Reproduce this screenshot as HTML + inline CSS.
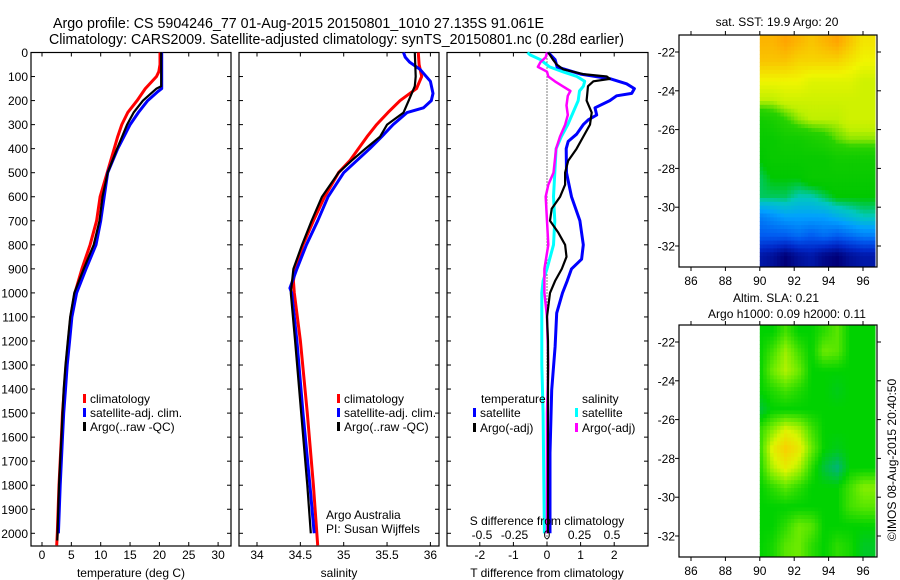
<!DOCTYPE html>
<html><head><meta charset="utf-8"><style>
html,body{margin:0;padding:0;background:#fff}
svg{display:block;font-family:"Liberation Sans",sans-serif}
</style></head><body>
<svg id="c" width="900" height="580" viewBox="0 0 900 580" xmlns="http://www.w3.org/2000/svg">
<text x="53" y="28" font-size="14.5" textLength="491" lengthAdjust="spacingAndGlyphs">Argo profile: CS 5904246_77 01-Aug-2015 20150801_1010 27.135S 91.061E</text>
<text x="49" y="44" font-size="14.5" textLength="575" lengthAdjust="spacingAndGlyphs">Climatology: CARS2009. Satellite-adjusted climatology: synTS_20150801.nc (0.28d earlier)</text>
<g id="g"></g>
</svg>
<script>
// ---------- data ----------
const tClimDepth=[0,50,80,100,150,200,250,300,350,400,500,600,700,800,900,1000,1100,1200,1300,1400,1500,1600,1800,2000,2050];
const tClim=[20.1,20.1,19.9,19.5,17.6,16.2,14.6,13.6,12.9,12.3,11.1,9.9,9.3,8.2,6.8,5.6,4.9,4.5,4.1,3.8,3.5,3.3,2.9,2.6,2.5];
const tSatDepth=[0,100,150,165,200,250,300,400,500,600,700,800,900,1000,1100,1200,1300,1400,1500,1600,1800,2000];
const tSat=[20.4,20.4,20.4,19.6,18.0,16.4,15.0,12.9,11.2,10.6,10.0,9.2,7.5,5.9,5.1,4.7,4.3,4.0,3.7,3.5,3.1,2.8];
const tArgoDepth=[0,100,140,150,200,250,300,400,500,600,700,800,900,1000,1100,1200,1300,1400,1500,1600,1800,2030];
const tArgo=[20.3,20.3,20.3,19.5,17.2,15.6,14.5,12.8,11.2,10.3,9.8,8.8,7.1,5.5,4.8,4.4,4.0,3.7,3.5,3.3,2.9,2.6];

const sClimDepth=[0,50,100,150,200,250,300,350,400,450,500,600,700,800,900,950,1000,1200,1500,1800,2050];
const sClim=[35.86,35.87,35.90,35.84,35.65,35.51,35.38,35.27,35.17,35.07,34.94,34.78,34.65,34.53,34.44,34.42,34.43,34.50,34.58,34.65,34.70];
const sSatDepth=[0,20,40,70,120,170,200,230,250,300,350,400,450,500,600,700,800,900,980,1000,1200,1500,1800,2000];
const sSat=[35.69,35.71,35.76,35.88,36.0,36.03,36.01,35.92,35.73,35.57,35.44,35.30,35.15,35.0,34.82,34.70,34.57,34.46,34.38,34.40,34.46,34.53,34.61,34.66];
const sArgoDepth=[0,100,140,200,250,300,350,400,450,500,600,700,800,900,1000,1200,1500,1800,2000];
const sArgo=[35.82,35.83,35.82,35.75,35.69,35.50,35.42,35.25,35.09,34.94,34.75,34.63,34.52,34.42,34.39,34.44,34.51,34.58,34.62];

const dTSatDepth=[0,30,60,90,110,130,150,170,180,200,230,260,280,300,340,370,400,500,600,700,800,860,900,950,1000,1084,1224,1404,1666,2000];
const dTSat=[0.04,0.24,0.3,1.0,1.9,2.37,2.6,2.52,2.07,1.87,1.43,1.48,1.23,1.08,0.88,0.63,0.57,0.58,0.73,0.98,1.08,1.03,0.73,0.6,0.46,0.29,0.24,0.14,0.09,0.09];
const dTArgoDepth=[0,30,50,70,90,100,110,120,140,200,250,300,350,400,450,500,550,600,650,700,750,800,850,900,950,1000,1100,1200,1500,2000];
const dTArgo=[0.04,0.18,0.29,0.48,1.07,1.78,1.87,1.38,1.22,1.18,1.33,1.28,1.08,0.88,0.63,0.54,0.54,0.39,0.14,0.09,0.34,0.54,0.58,0.44,0.24,0.09,0.0,0.03,0.03,0.03];
const dSSatDepth=[0,10,30,60,80,100,120,140,160,200,250,300,350,400,500,600,700,800,900,950,1000,1300,1500,2000];
const dSSat=[-0.15,-0.13,-0.05,0.02,0.12,0.23,0.29,0.28,0.25,0.24,0.20,0.16,0.11,0.07,0.06,0.05,0.06,0.05,0.0,-0.03,-0.04,-0.04,-0.03,-0.02];
const dSArgoDepth=[0,20,40,60,80,100,120,140,160,180,220,260,300,350,400,500,550,600,700,800,900,1000,1100,1300,1500,2000];
const dSArgo=[0,-0.01,-0.05,-0.07,0,0.01,0.06,0.12,0.18,0.16,0.15,0.16,0.14,0.10,0.07,0.05,0.01,-0.01,0,0.01,-0.02,-0.02,0,0.01,0,0];

const depthTicks=[0,100,200,300,400,500,600,700,800,900,1000,1100,1200,1300,1400,1500,1600,1700,1800,1900,2000];
const tTicks=[0,5,10,15,20,25,30];
const sTicks=[34,34.5,35,35.5,36];
const sTickLabels=["34","34.5","35","35.5","36"];
const dTTicks=[-2,-1,0,1,2];
const dSTicks=[-0.5,-0.25,0,0.25,0.5];
const dSTickLabels=["-0.5","-0.25","0","0.25","0.5"];
const latTicks=[-22,-24,-26,-28,-30,-32];
const lonTicks=[86,88,90,92,94,96];
const gridLons=[90,90.75,91.5,92.25,93,93.75,94.5,95.25,96];
const gridLats=[-21.5,-22.5,-23.5,-24.5,-25.5,-26.5,-27.5,-28.5,-29.5,-30.5,-31.5,-32.5];
const sst=[
[20.6,20.6,20.7,20.6,20.5,20.6,20.7,20.5,20.3],
[20.5,20.5,20.5,20.4,20.4,20.4,20.4,20.3,20.2],
[20.2,20.2,20.2,20.2,20.1,20.1,20.1,20.1,20.0],
[19.9,19.9,20.0,20.0,20.0,20.0,20.0,20.0,20.0],
[19.3,19.4,19.6,19.8,19.9,19.9,19.9,20.0,20.0],
[19.2,19.2,19.3,19.3,19.4,19.5,19.7,19.8,19.8],
[19.1,19.2,19.2,19.2,19.2,19.2,19.3,19.3,19.3],
[19.0,19.1,19.1,19.1,19.2,19.2,19.2,19.2,19.2],
[19.0,19.0,19.0,18.9,18.9,19.0,19.1,19.1,19.1],
[18.4,18.5,18.6,18.6,18.6,18.6,18.7,18.8,18.9],
[18.2,18.2,18.2,18.3,18.2,18.3,18.2,18.3,18.4],
[17.6,17.5,17.3,17.5,17.6,17.4,17.3,17.5,17.6]];
const sla=[
[0,0,0.06,0,0,0.04,0.08,0,0],
[0,0.06,0.14,0.06,0,0.1,0.08,0,0],
[0,0.1,0.16,0.1,0,0,0,0,0],
[0,0.03,0.06,0.03,0,0,-0.02,0,0],
[-0.05,0,0,0,0,0,0,0,0],
[0.04,0.12,0.2,0.16,0.06,0,0,0,0],
[0.04,0.22,0.3,0.24,0.1,0,-0.02,0,0],
[0.02,0.16,0.22,0.16,0.04,-0.05,-0.1,0,0],
[0,0.04,0.08,0.04,0,0,0,0.06,0.12],
[0,0,0,0,0,0,0,0.06,0.08],
[0,0,0.04,0.1,0.08,0,0,0,0],
[0,0.02,0.08,0.1,0.04,0,0.04,0.02,-0.03]];

// ---------- helpers ----------
const NS="http://www.w3.org/2000/svg";
const G=document.getElementById('g');
function mk(tag,attrs,parent){const e=document.createElementNS(NS,tag);for(const k in attrs)e.setAttribute(k,attrs[k]);(parent||G).appendChild(e);return e;}
const TOP=52.5,BOT=546;
const yD=d=>TOP+d*0.2404;
const xT=v=>42+v*5.87;
const xS=v=>257+(v-34)*86.7;
const xDT=v=>547+v*33.6;
const xDS=v=>547+v*130;

function frame(x0,x1,name){
  const r=mk('rect',{x:x0,y:TOP,width:x1-x0,height:BOT-TOP,fill:'none',stroke:'#000','stroke-width':1.2});
  
  
  depthTicks.forEach(d=>{
    mk('line',{x1:x0,x2:x0+4,y1:yD(d),y2:yD(d),stroke:'#000'});
    mk('line',{x1:x1-4,x2:x1,y1:yD(d),y2:yD(d),stroke:'#000'});
  });
}
function xticks(vals,fx,labels,y,name){
  vals.forEach((v,i)=>{
    const x=fx(v);
    mk('line',{x1:x,x2:x,y1:BOT,y2:BOT-4,stroke:'#000'});
    mk('line',{x1:x,x2:x,y1:TOP,y2:TOP+4,stroke:'#000'});
    if(y){const t=mk('text',{x:x,y:y,'font-size':12,'text-anchor':'middle'});t.textContent=labels?labels[i]:String(v);
      
      }
  });
}
function line(ds,vs,fx,col,w,name){
  const p=ds.map((d,i)=>fx(vs[i]).toFixed(1)+','+yD(d).toFixed(1)).join(' ');
  const e=mk('polyline',{points:p,fill:'none',stroke:col,'stroke-width':w,'stroke-linejoin':'round'});
  
  
}
function txt(x,y,s,name,opt){
  const t=mk('text',Object.assign({x:x,y:y,'font-size':12},opt||{}));t.textContent=s;
  
  
  return t;
}
function legend(x,y,col,s,name){
  mk('rect',{x:x,y:y-9,width:3,height:9,fill:col});
  txt(x+7,y,s,name);
}

// ---------- panel 1 ----------
frame(31,231,'temperature-panel');
depthTicks.forEach(d=>{txt(28,yD(d)+4.5,String(d),'depth-tick-label',{'text-anchor':'end'});});
xticks(tTicks,xT,null,559,'temperature-tick-label');
txt(131,577,'temperature (deg C)','temperature-axis-title',{'text-anchor':'middle'});
line(tClimDepth,tClim,xT,'#f00',3,'temperature-climatology-line');
line(tSatDepth,tSat,xT,'#00f',3,'temperature-satellite-line');
line(tArgoDepth,tArgo,xT,'#000',2.2,'temperature-argo-line');
legend(83,403,'#f00','climatology','legend-climatology');
legend(83,417,'#00f','satellite-adj. clim.','legend-satellite-adj');
legend(83,431,'#000','Argo(..raw -QC)','legend-argo');

// ---------- panel 2 ----------
frame(239,439,'salinity-panel');
xticks(sTicks,xS,sTickLabels,559,'salinity-tick-label');
txt(339,577,'salinity','salinity-axis-title',{'text-anchor':'middle'});
line(sClimDepth,sClim,xS,'#f00',3,'salinity-climatology-line');
line(sSatDepth,sSat,xS,'#00f',3,'salinity-satellite-line');
line(sArgoDepth,sArgo,xS,'#000',2.2,'salinity-argo-line');
legend(337,403,'#f00','climatology','legend-climatology');
legend(337,417,'#00f','satellite-adj. clim.','legend-satellite-adj');
legend(337,431,'#000','Argo(..raw -QC)','legend-argo');
txt(326,519,'Argo Australia','credit-argo-australia');
txt(326,533,'PI: Susan Wijffels','credit-pi');

// ---------- panel 3 ----------
frame(447,648,'difference-panel');
mk('line',{x1:xDT(0),x2:xDT(0),y1:TOP,y2:BOT,stroke:'#000','stroke-dasharray':'1,2','stroke-width':1});
xticks(dTTicks,xDT,null,559,'t-difference-tick-label');
line(dSSatDepth,dSSat,xDS,'#0ff',3,'salinity-diff-satellite-line');
line(dSArgoDepth,dSArgo,xDS,'#f0f',2.5,'salinity-diff-argo-line');
line(dTSatDepth,dTSat,xDT,'#00f',3,'temperature-diff-satellite-line');
line(dTArgoDepth,dTArgo,xDT,'#000',2.2,'temperature-diff-argo-line');
txt(547,577,'T difference from climatology','t-difference-axis-title',{'text-anchor':'middle'});
txt(547,525,'S difference from climatology','s-difference-axis-title',{'text-anchor':'middle'});
dSTicks.forEach((v,i)=>txt(xDS(v),539,dSTickLabels[i],'s-difference-tick-label',{'text-anchor':'middle'}));
txt(481,403,'temperature','legend-temperature-heading');
txt(582,403,'salinity','legend-salinity-heading');
legend(473,417,'#00f','satellite','legend-temp-satellite');
legend(473,432,'#000','Argo(-adj)','legend-temp-argo');
legend(575,417,'#0ff','satellite','legend-sal-satellite');
legend(575,432,'#f0f','Argo(-adj)','legend-sal-argo');

// ---------- maps ----------
const sstStops=[[17.3,[0,0,120]],[17.8,[0,40,200]],[18.2,[0,90,240]],[18.6,[0,160,255]],[18.9,[0,200,190]],[19.1,[0,200,0]],[19.6,[40,210,0]],[19.9,[190,240,0]],[20.2,[240,245,0]],[20.7,[255,165,0]]];
const slaStops=[[-0.1,[0,180,120]],[0,[0,210,0]],[0.1,[110,235,0]],[0.2,[220,245,0]],[0.32,[255,200,0]]];
function rgb(a){return 'rgb('+a.join(',')+')';}
function colorFor(stops,v){
  if(v<=stops[0][0])return rgb(stops[0][1]);
  for(let i=1;i<stops.length;i++){if(v<=stops[i][0]){const a=stops[i-1],b=stops[i],t=(v-a[0])/(b[0]-a[0]);
    return rgb(a[1].map((c,k)=>Math.round(c+(b[1][k]-c)*t)));}}
  return rgb(stops[stops.length-1][1]);
}
function sample(vals,lon,lat){
  let fi=(lon-gridLons[0])/0.75, fj=(gridLats[0]-lat)/1.0;
  fi=Math.max(0,Math.min(gridLons.length-1,fi)); fj=Math.max(0,Math.min(gridLats.length-1,fj));
  const i0=Math.min(Math.floor(fi),gridLons.length-2), j0=Math.min(Math.floor(fj),gridLats.length-2);
  const tx=fi-i0, ty=fj-j0;
  const a=vals[j0][i0],b=vals[j0][i0+1],c=vals[j0+1][i0],d=vals[j0+1][i0+1];
  return (a*(1-tx)+b*tx)*(1-ty)+(c*(1-tx)+d*tx)*ty;
}
function map(top,bot,yLat22,yLat32,vals,stops,name){
  const L=679,R=877;
  const xl=lon=>691+(lon-86)*17.2;
  const yl=lat=>yLat22+(-22-lat)*(yLat32-yLat22)/10;
  const g=mk('g',{});
  
  
  const dLon=0.2,dLat=0.2;
  const latTop=-22+(yLat22-top)/((yLat32-yLat22)/10);
  const latBot=-22-(bot-1-yLat22)/((yLat32-yLat22)/10);
  for(let lat=latTop;lat>latBot;lat-=dLat){
    for(let lon=90;lon<96.75;lon+=dLon){
      const v=sample(vals,lon+dLon/2,lat-dLat/2);
      const x0=xl(lon),x1=Math.min(xl(Math.min(lon+dLon,96.75)),875);
      const y0=yl(lat),y1=Math.min(yl(lat-dLat),bot-1);
      const c=mk('rect',{x:x0.toFixed(1),y:y0.toFixed(1),width:(x1-x0+0.5).toFixed(1),height:(y1-y0+0.5).toFixed(1),fill:colorFor(stops,v)},g);
      
      
    }
  }
  const r=mk('rect',{x:L,y:top,width:R-L,height:bot-top,fill:'none',stroke:'#000','stroke-width':1.2});
  
  
  latTicks.forEach(lat=>{const y=yl(lat);
    mk('line',{x1:L-4,x2:L,y1:y,y2:y,stroke:'#000'});mk('line',{x1:R,x2:R+4,y1:y,y2:y,stroke:'#000'});
    txt(675,y+4.5,String(lat),name+'-lat-label',{'text-anchor':'end'});});
  lonTicks.forEach(lon=>{const x=xl(lon);
    mk('line',{x1:x,x2:x,y1:bot,y2:bot+4,stroke:'#000'});mk('line',{x1:x,x2:x,y1:top-4,y2:top,stroke:'#000'});
    txt(x,bot+18,String(lon),name+'-lon-label',{'text-anchor':'middle'});});
}
map(35,267,52,246,sst,sstStops,'sst-map');
map(325,557,342,536,sla,slaStops,'sla-map');
txt(777,26,'sat. SST: 19.9 Argo: 20','sst-map-title',{'text-anchor':'middle'});
txt(776,302,'Altim. SLA: 0.21','sla-map-title',{'text-anchor':'middle'});
txt(787,318,'Argo h1000: 0.09 h2000: 0.11','sla-map-subtitle',{'text-anchor':'middle'});
txt(0,0,'©IMOS 08-Aug-2015 20:40:50','copyright-timestamp',{'text-anchor':'middle',transform:'translate(896,460) rotate(-90)'});
</script>
</body></html>
